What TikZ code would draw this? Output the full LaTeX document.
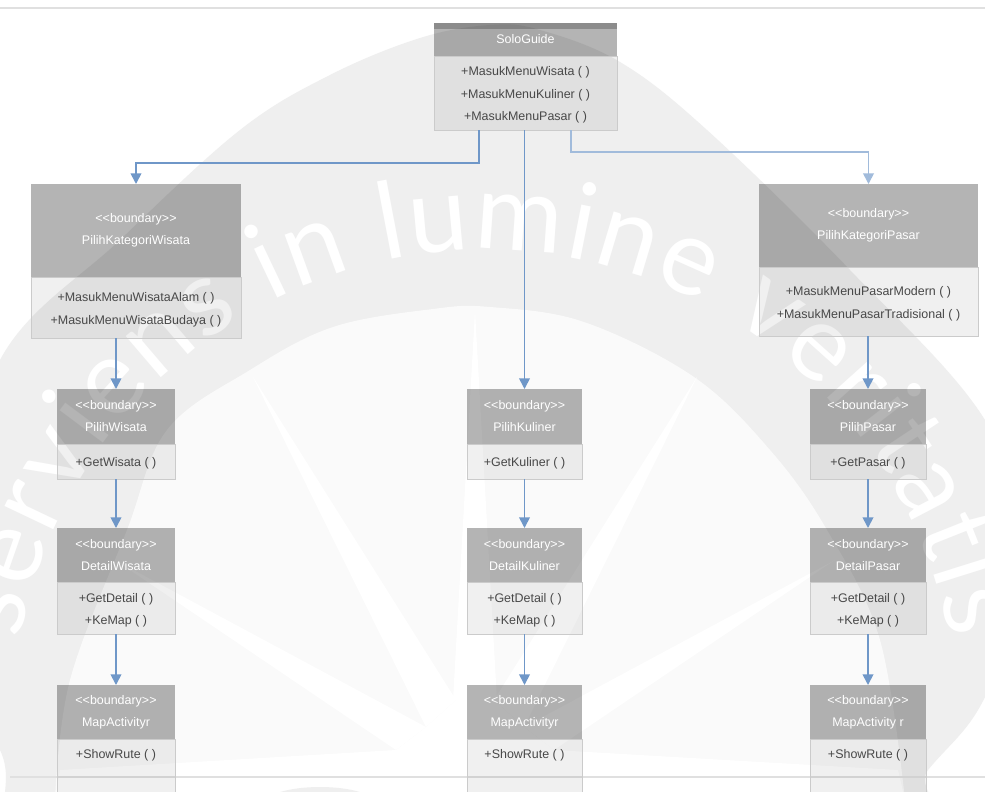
\documentclass[tikz,border=0pt]{standalone}
\usepackage{fontspec}
\setmainfont{Liberation Sans}
\newfontfamily\wmfont{Lato}
\usetikzlibrary{arrows.meta,decorations.text}
\definecolor{edgec}{HTML}{CBCBCB}
\definecolor{conn}{HTML}{6F97C8}
\definecolor{txt}{HTML}{484848}
\definecolor{wmgrey}{HTML}{EFEFEF}
\definecolor{wmlight}{HTML}{FAFAFA}
\tikzset{
  x=0.75pt,y=-0.75pt,
  header/.style={draw=none,fill=black,fill opacity=0.295,text opacity=1,text=white,align=center,inner sep=0pt,outer sep=0pt,font=\fontsize{9.35}{16.5}\selectfont},
  bodybox/.style={draw=edgec,line width=0.7pt,fill=black,fill opacity=0.06,draw opacity=1,text opacity=1,text=txt,align=center,inner sep=0pt,outer sep=0pt,font=\fontsize{9.35}{16.8}\selectfont},
  link/.style={draw=conn,line width=1.3pt,-{Triangle[length=8pt,width=8pt]}},
  palelink/.style={link,draw=conn!65!white},
  rule/.style={draw=black!12,line width=1pt},
  rayfill/.style={fill=white,draw=none}
}
% name, x-left, width, y-top, header height, body height, header text, body text
\newcommand{\umlbox}[8]{%
  \node[header,anchor=north west,minimum width=#3*0.75pt,minimum height=#5*0.75pt] (#1-h) at (#2,#4) {#7};
  \node[bodybox,anchor=north,minimum width=#3*0.75pt,minimum height=#6*0.75pt] (#1-b) at (#1-h.south) {\rule{0pt}{10pt}#8};
}
\newcommand{\bnd}{<{}<boundary>{}>}
\newcommand{\dn}[1]{\raisebox{-1.8pt}{#1}}
\begin{document}
\begin{tikzpicture}
\useasboundingbox (0,0) rectangle (985,792);
\clip (0,0) rectangle (985,792);
\fill[white] (0,0) rectangle (985,792);
% watermark: outer shape
\fill[wmgrey] plot[smooth cycle,tension=0.6] coordinates {(0,360) (120,240) (240,130) (330,75) (420,38) (490,25) (540,30) (620,62) (707,130) (850,270) (985,420) (1030,560) (985,697) (928,770) (860,850) (100,850) (0,750) (-45,550)};
% watermark: inner sun
\fill[wmlight] plot[smooth,tension=0.6] coordinates {(55,800) (70,680) (127,530) (167,430) (250,370) (333,327) (433,309) (490,307) (584,322) (694,377) (770,450) (827,530) (880,640) (905,800)} -- cycle;
\fill[rayfill] (475,311) -- (453,700) -- (497,700) -- cycle;
\fill[rayfill] (253,377) -- (426,727) -- (456,700) -- cycle;
\fill[rayfill] (697,377) -- (524,727) -- (494,700) -- cycle;
\fill[rayfill] (115,560) -- (396,750) -- (426,727) -- cycle;
\fill[rayfill] (835,560) -- (554,750) -- (524,727) -- cycle;
\fill[rayfill] (60,770) -- (396,750) -- (426,727) -- (456,700) -- (494,700) -- (524,727) -- (554,750) -- (898,770) -- (905,800) -- (55,800) -- cycle;
\fill[wmgrey] (320,803) ellipse[x radius=41pt,y radius=12pt];
\path[decorate,decoration={text along path,text align={fit to path},
  text={|\fontsize{80}{80}\selectfont\wmfont\color{white}|serviens in lumine veritatis}}]
  (20,640) arc[start angle=170,end angle=10,radius=354pt];
% page rules
\draw[rule] (0,8) -- (985,8);
\draw[rule] (10,777) -- (985,777);
% boxes
\umlbox{solo}{434}{183}{23}{33}{74}{SoloGuide}{+MasukMenuWisata ( )\\+MasukMenuKuliner ( )\\+MasukMenuPasar ( )}
\fill[black,fill opacity=.22] (434,23) rectangle (617,29);
\umlbox{kw}{31}{210}{184}{93}{61}{\dn{\bnd}\\\dn{PilihKategoriWisata}}{+MasukMenuWisataAlam ( )\\+MasukMenuWisataBudaya ( )}
\umlbox{kp}{759}{219}{184}{83}{69}{\dn{\bnd}\\\dn{PilihKategoriPasar}}{+MasukMenuPasarModern ( )\\+MasukMenuPasarTradisional ( )}
\umlbox{pw}{57}{118}{389}{55}{35}{\bnd\\PilihWisata}{+GetWisata ( )}
\umlbox{dw}{57}{118}{528}{54}{52}{\bnd\\DetailWisata}{+GetDetail ( )\\+KeMap ( )}
\umlbox{mw}{57}{118}{685}{54}{60}{\bnd\\MapActivityr}{+ShowRute ( )\\[9pt]\mbox{}}
\umlbox{pk}{467}{115}{389}{55}{35}{\bnd\\PilihKuliner}{+GetKuliner ( )}
\umlbox{dk}{467}{115}{528}{54}{52}{\bnd\\DetailKuliner}{+GetDetail ( )\\+KeMap ( )}
\umlbox{mk}{467}{115}{685}{54}{60}{\bnd\\MapActivityr}{+ShowRute ( )\\[9pt]\mbox{}}
\umlbox{pp}{810}{116}{389}{55}{35}{\bnd\\PilihPasar}{+GetPasar ( )}
\umlbox{dp}{810}{116}{528}{54}{52}{\bnd\\DetailPasar}{+GetDetail ( )\\+KeMap ( )}
\umlbox{mp}{810}{116}{685}{54}{60}{\bnd\\MapActivity r}{+ShowRute ( )\\[9pt]\mbox{}}
% connectors
\coordinate (kwout) at ([xshift=-34.9pt]solo-b.south);
\coordinate (kpout) at ([xshift=34.1pt]solo-b.south);
\coordinate (kwlevel) at (0,163);
\coordinate (kplevel) at (0,152);
\coordinate (kwbend) at (kwout |- kwlevel);
\coordinate (kpbend) at (kpout |- kplevel);
\draw[link] (kwout) -- (kwbend) -| (kw-h.north);
\draw[palelink] (kpout) -- (kpbend) -| (kp-h.north);
\draw[link] (solo-b.south -| pk-h.north) -- (pk-h.north);
\foreach \a/\b in {kw-b/pw-h,pw-b/dw-h,dw-b/mw-h,pk-b/dk-h,dk-b/mk-h,kp-b/pp-h,pp-b/dp-h,dp-b/mp-h}{
  \draw[link] (\b.north |- \a.south) -- (\b.north);
}
\end{tikzpicture}
\end{document}
